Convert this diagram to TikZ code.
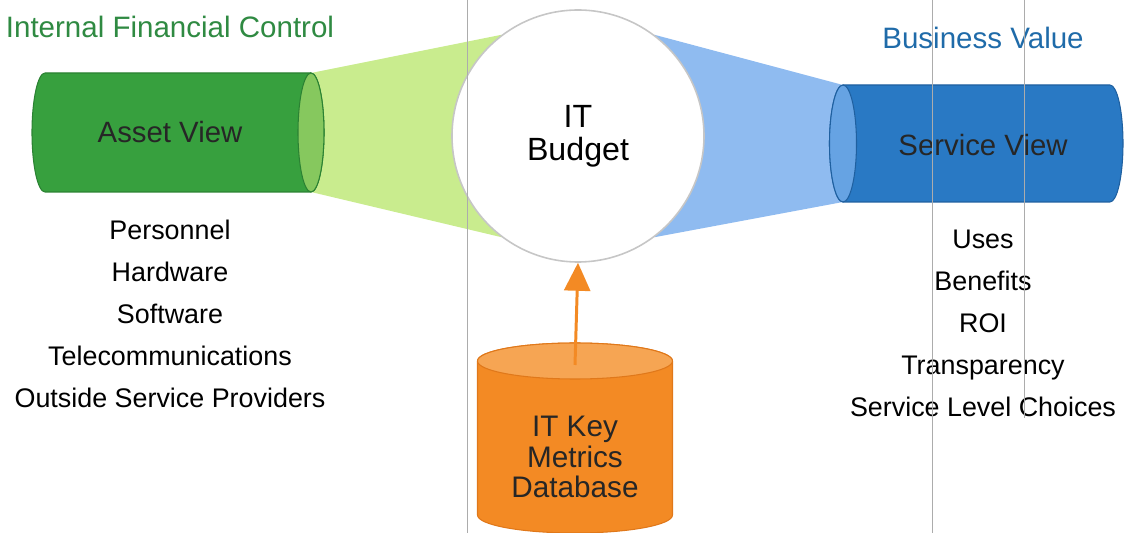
\documentclass[tikz,border=0pt]{standalone}
\usepackage{fontspec}
\setmainfont{Liberation Sans}
\usetikzlibrary{positioning,arrows.meta,backgrounds}

\definecolor{assetgreen}{HTML}{37A03E}
\definecolor{assetedge}{HTML}{2B8233}
\definecolor{assetface}{HTML}{86C85E}
\definecolor{assetcone}{HTML}{C9EC8E}
\definecolor{headgreen}{HTML}{2F8A42}
\definecolor{serviceblue}{HTML}{2979C4}
\definecolor{serviceedge}{HTML}{1F60A0}
\definecolor{serviceface}{HTML}{66A3E3}
\definecolor{servicecone}{HTML}{8FBBF0}
\definecolor{headblue}{HTML}{1F6BA9}
\definecolor{dborange}{HTML}{F38A24}
\definecolor{dbedge}{HTML}{E0781A}
\definecolor{dbface}{HTML}{F6A553}

\begin{document}
\begin{tikzpicture}[node distance=2cm,on grid,auto]
  \tikzset{headline/.style={font=\fontsize{16.8}{20}\selectfont}}
  \tikzset{viewlabel/.style={font=\fontsize{16.7}{20}\selectfont,text=black!85}}
  \tikzset{itemlist/.style={align=center,font=\fontsize{15.3}{23.9}\selectfont}}
  \tikzset{budgetcircle/.style={circle,draw=gray!45,line width=0.9pt,fill=white,minimum size=5.04cm,inner sep=0pt,align=center,font=\fontsize{18.3}{18.8}\selectfont}}
  \tikzset{feed/.style={draw=dborange,line width=1.7pt,-{Triangle[width=0.52cm,length=0.56cm]}}}
  \tikzset{scanline/.style={draw=gray!65,line width=0.5pt}}

  \useasboundingbox (0,0) rectangle (22.48,-10.66);

  % IT budget in the middle
  \node[budgetcircle] (budget) at (11.56,-2.72) {IT\\Budget};

  % cones behind the circle
  \begin{scope}[on background layer]
    \fill[assetcone] (6.22,-1.46) -- (budget.127) -- (budget.233) -- (6.22,-3.84) -- cycle;
    \fill[servicecone] (budget.53) -- (16.86,-1.70) -- (16.86,-4.04) -- (budget.-53) -- cycle;
  \end{scope}

  % asset view cylinder
  \filldraw[fill=assetgreen,draw=assetedge,line width=0.6pt]
    (6.22,-1.46) -- (0.9,-1.46) arc[start angle=90,end angle=270,x radius=0.26,y radius=1.19]
    -- (6.22,-3.84) arc[start angle=-90,end angle=90,x radius=0.26,y radius=1.19] -- cycle;
  \filldraw[fill=assetface,draw=assetedge,line width=0.6pt] (6.22,-2.65) ellipse[x radius=0.26,y radius=1.19];
  \node[viewlabel] (asset) at (3.4,-2.65) {Asset View};

  % service view cylinder
  \filldraw[fill=serviceblue,draw=serviceedge,line width=0.6pt]
    (16.86,-1.70) -- (22.2,-1.70) arc[start angle=90,end angle=-90,x radius=0.26,y radius=1.17]
    -- (16.86,-4.04) arc[start angle=270,end angle=90,x radius=0.27,y radius=1.17] -- cycle;
  \filldraw[fill=serviceface,draw=serviceedge,line width=0.6pt] (16.86,-2.87) ellipse[x radius=0.27,y radius=1.17];
  \node[viewlabel] (service) at (19.66,-2.9) {Service View};

  % key metrics database
  \filldraw[fill=dborange,draw=dbedge,line width=0.6pt]
    (9.55,-7.22) -- (9.55,-10.30) arc[start angle=180,end angle=360,x radius=1.95,y radius=0.36]
    -- (13.45,-7.22) arc[start angle=0,end angle=180,x radius=1.95,y radius=0.36] -- cycle;
  \filldraw[fill=dbface,draw=dbedge,line width=0.6pt] (11.5,-7.22) ellipse[x radius=1.95,y radius=0.36];
  \node[align=center,font=\fontsize{16.9}{17.2}\selectfont,text=black!85] (db) at (11.5,-9.14) {IT Key\\Metrics\\Database};
  \coordinate (dbtop) at (11.5,-7.3);

  % headings and lists
  \node[headline,text=headgreen] (control) [above = 2.11cm of asset] {Internal Financial Control};
  \node[headline,text=headblue] (value) [above = 2.14cm of service] {Business Value};
  \node[itemlist] (assetitems) [below = 3.62cm of asset] {Personnel\\Hardware\\Software\\Telecommunications\\Outside Service Providers};
  \node[itemlist] (serviceitems) [below = 3.57cm of service] {Uses\\Benefits\\ROI\\Transparency\\Service Level Choices};

  \draw[feed] (dbtop) -- (budget.south);

  % fold lines of the scan
  \draw[scanline] (9.34,0) -- (9.34,-10.66);
  \draw[scanline] (18.64,0) -- (18.64,-10.66);
  \draw[scanline] (20.48,0) -- (20.48,-8.36);
\end{tikzpicture}
\end{document}
